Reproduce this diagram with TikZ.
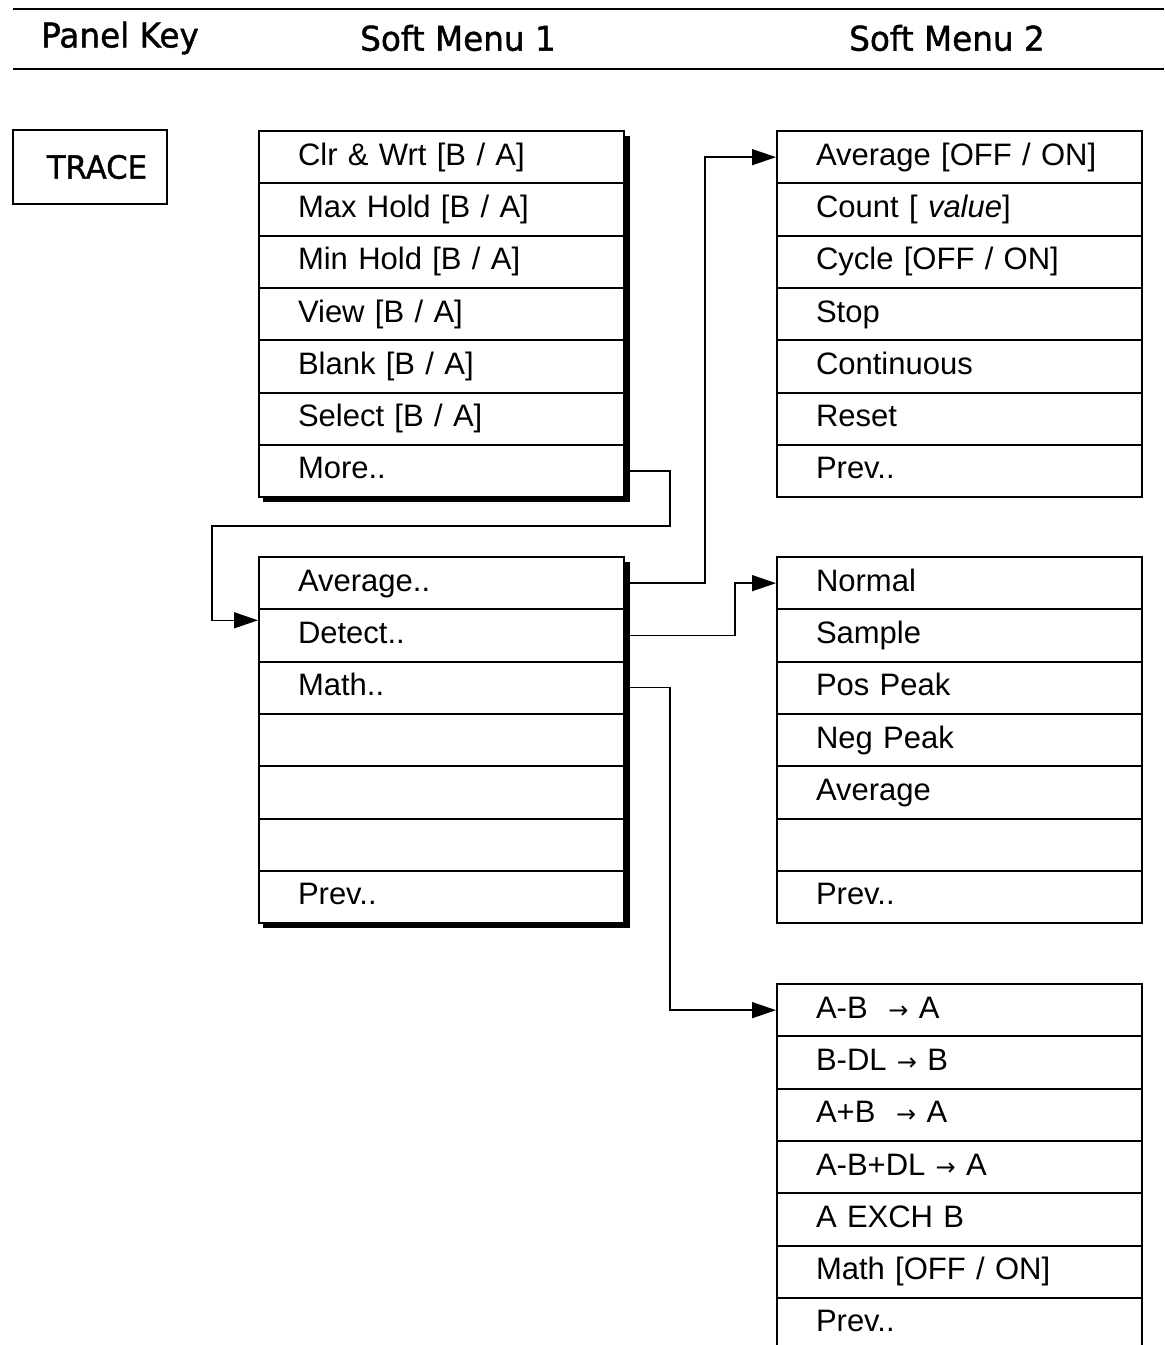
\documentclass[tikz,border=0pt]{standalone}
\usepackage{fontspec}
\setmainfont{Liberation Sans}
\newfontfamily\headfont[FakeStretch=0.96, FakeBold=1.2]{DejaVu Sans}
\newfontfamily\arrowfont{DejaVu Sans}
\usetikzlibrary{arrows.meta,calc}
\newcommand{\smallto}{{\arrowfont\fontsize{12}{12}\selectfont →}}
\tikzset{menurow/.style={draw, line width=1pt, fill=white, anchor=north west,
        minimum height=26.15pt, inner xsep=19.5pt, inner ysep=0pt,
        text width=143.5pt, text height=11.5pt, text depth=3.5pt, align=left,
        font=\fontsize{15.5}{18}\selectfont},
    link/.style={line width=0.7pt, -{Triangle[length=12pt,width=8pt]}},
    shadow/.style={fill=black},
    rule/.style={line width=0.75pt},
    head/.style={font=\headfont\fontsize{17}{20}\selectfont}}

\begin{document}
\begin{tikzpicture}[x=0.5pt, y=-0.5pt]
    \useasboundingbox (0,0) rectangle (1164,1345);
    \clip (0,0) rectangle (1164,1345);
    % Header
    \draw[rule] (13,9) -- (1164,9);
    \draw[rule] (13,69) -- (1164,69);
    \node[head] (hkey) at (120,38) {Panel Key};
    \node[head] (hsoft1) at (458,38) {Soft Menu 1};
    \node[head] (hsoft2) at (947,38) {Soft Menu 2};
    %
    \node[draw, line width=1pt, minimum width=77pt, minimum height=37pt,
          font=\headfont\fontsize{16}{18}\selectfont] (trace) at (90,167)
          {\hspace*{7pt}TRACE};
    % Shadows of the soft menu 1 pages
    \fill[shadow] (263,136) rectangle (630,502);
    \fill[shadow] (263,562) rectangle (630,928);
    % Soft menu 1
    \foreach \lbl [count=\i] in {{Clr \& Wrt [B / A]}, {Max Hold [B / A]},
        {Min Hold [B / A]}, {View [B / A]}, {Blank [B / A]}, {Select [B / A]}, {More..}}
        \node[menurow] (sa-\i) at (258,{130+52.3*(\i-1)}) {\lbl};
    \foreach \lbl [count=\i] in {{Average..}, {Detect..}, {Math..}, {}, {}, {}, {Prev..}}
        \node[menurow] (sb-\i) at (258,{556+52.3*(\i-1)}) {\lbl};
    % Soft menu 2
    \foreach \lbl [count=\i] in {{Average [OFF / ON]}, {Count [ \textit{value}]},
        {Cycle [OFF / ON]}, {Stop}, {Continuous}, {Reset}, {Prev..}}
        \node[menurow] (sc-\i) at (776,{130+52.3*(\i-1)}) {\lbl};
    \foreach \lbl [count=\i] in {{Normal}, {Sample}, {Pos Peak}, {Neg Peak},
        {Average}, {}, {Prev..}}
        \node[menurow] (sd-\i) at (776,{556+52.3*(\i-1)}) {\lbl};
    \foreach \lbl [count=\i] in {{A-B\ \ \smallto\ A}, {B-DL \smallto\ B},
        {A+B\ \ \smallto\ A}, {A-B+DL \smallto\ A}, {A EXCH B},
        {Math [OFF / ON]}, {Prev..}}
        \node[menurow] (se-\i) at (776,{983+52.3*(\i-1)}) {\lbl};
    % Connectors
    \draw[link] (sa-7.east) -- ++(45,0) -- ++(0,55)
        -| ($(sb-1.south west)+(-46,10)$) -- ($(sb-1.south west)+(0,10)$);
    \draw[link] (sb-1.east) -- ++(80,0) |- (sc-1.west);
    \draw[link] (sb-2.east) -- ++(110,0) |- (sd-1.west);
    \draw[link] (sb-3.east) -- ++(45,0) |- (se-1.west);
\end{tikzpicture}
\end{document}
